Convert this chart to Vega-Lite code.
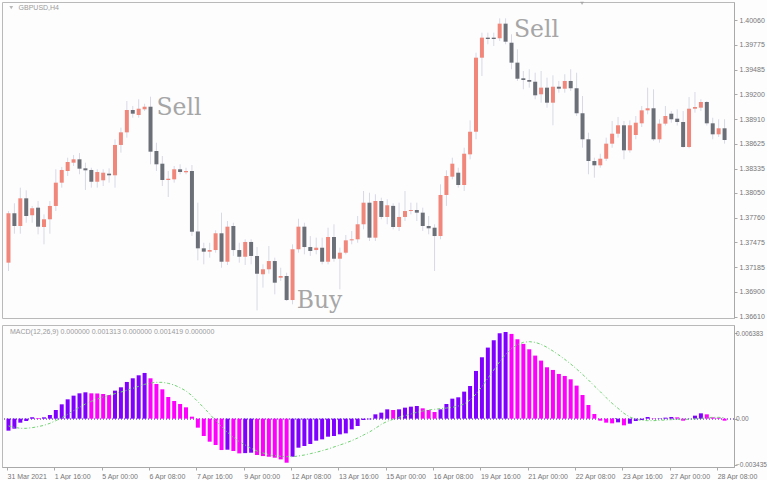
{
"$schema": "https://vega.github.io/schema/vega-lite/v6.json",
"background": "#fdfdfe",
"padding": {"left": 1, "top": 1, "right": 0, "bottom": 0},
"spacing": 3,
"config": {
  "view": {"stroke": "#b9b9b9", "strokeWidth": 1},
  "axis": {"labelFont": "Liberation Sans", "labelFontSize": 7, "labelColor": "#767676", "domainColor": "#a9a9a9", "tickColor": "#a9a9a9", "tickSize": 3, "grid": false, "title": null, "labelPadding": 2, "labelOverlap": false, "labelBound": false, "labelFlush": false}
},
"datasets": {
"bars": [
{"i":0,"o":1.37239,"h":1.37840,"l":1.37142,"c":1.37814,"m":-0.000896,"s":-0.000547,"d":"up"},
{"i":1,"o":1.37814,"h":1.37930,"l":1.37576,"c":1.37666,"m":-0.000747,"s":-0.000647,"d":"up"},
{"i":2,"o":1.37666,"h":1.38112,"l":1.37576,"c":1.37988,"m":-0.000299,"s":-0.000721,"d":"up"},
{"i":3,"o":1.37988,"h":1.38081,"l":1.37704,"c":1.37782,"m":-0.000174,"s":-0.000721,"d":"up"},
{"i":4,"o":1.37790,"h":1.37899,"l":1.37704,"c":1.37872,"m":0.0001,"s":-0.000672,"d":"up"},
{"i":5,"o":1.37879,"h":1.37957,"l":1.37569,"c":1.37658,"m":0.00005,"s":-0.000597,"d":"down"},
{"i":6,"o":1.37654,"h":1.37802,"l":1.37453,"c":1.37744,"m":0.0001,"s":-0.000498,"d":"up"},
{"i":7,"o":1.37744,"h":1.37957,"l":1.37576,"c":1.37899,"m":0.000274,"s":-0.000348,"d":"up"},
{"i":8,"o":1.37899,"h":1.38326,"l":1.37840,"c":1.38170,"m":0.000647,"s":-0.000149,"d":"up"},
{"i":9,"o":1.38170,"h":1.38353,"l":1.38112,"c":1.38318,"m":0.001071,"s":0.000075,"d":"up"},
{"i":10,"o":1.38306,"h":1.38461,"l":1.38248,"c":1.38411,"m":0.001444,"s":0.000323,"d":"up"},
{"i":11,"o":1.38403,"h":1.38492,"l":1.38364,"c":1.38442,"m":0.001718,"s":0.000597,"d":"up"},
{"i":12,"o":1.38442,"h":1.38515,"l":1.38268,"c":1.38333,"m":0.001892,"s":0.000846,"d":"up"},
{"i":13,"o":1.38337,"h":1.38403,"l":1.38085,"c":1.38314,"m":0.001967,"s":0.001095,"d":"up"},
{"i":14,"o":1.38318,"h":1.38344,"l":1.38112,"c":1.38181,"m":0.001892,"s":0.001294,"d":"down"},
{"i":15,"o":1.38181,"h":1.38326,"l":1.38112,"c":1.38294,"m":0.00188,"s":0.001468,"d":"down"},
{"i":16,"o":1.38198,"h":1.38326,"l":1.38131,"c":1.38286,"m":0.001843,"s":0.001617,"d":"down"},
{"i":17,"o":1.38275,"h":1.38337,"l":1.38170,"c":1.38256,"m":0.001768,"s":0.001741,"d":"down"},
{"i":18,"o":1.38256,"h":1.38675,"l":1.38112,"c":1.38609,"m":0.002092,"s":0.001866,"d":"up"},
{"i":19,"o":1.38609,"h":1.38810,"l":1.38519,"c":1.38756,"m":0.002341,"s":0.00199,"d":"up"},
{"i":20,"o":1.38756,"h":1.39121,"l":1.38694,"c":1.39016,"m":0.002739,"s":0.002114,"d":"up"},
{"i":21,"o":1.39016,"h":1.39063,"l":1.38926,"c":1.38973,"m":0.003013,"s":0.002264,"d":"up"},
{"i":22,"o":1.38958,"h":1.39141,"l":1.38926,"c":1.39031,"m":0.003237,"s":0.002413,"d":"up"},
{"i":23,"o":1.39024,"h":1.39089,"l":1.39004,"c":1.39054,"m":0.003411,"s":0.002562,"d":"up"},
{"i":24,"o":1.39054,"h":1.39171,"l":1.38384,"c":1.38531,"m":0.003013,"s":0.002662,"d":"down"},
{"i":25,"o":1.38539,"h":1.38635,"l":1.38306,"c":1.38384,"m":0.00259,"s":0.002711,"d":"down"},
{"i":26,"o":1.38391,"h":1.38481,"l":1.38131,"c":1.38201,"m":0.002191,"s":0.002711,"d":"down"},
{"i":27,"o":1.38201,"h":1.38306,"l":1.38003,"c":1.38216,"m":0.001619,"s":0.002637,"d":"down"},
{"i":28,"o":1.38209,"h":1.38364,"l":1.38170,"c":1.38326,"m":0.00132,"s":0.002512,"d":"down"},
{"i":29,"o":1.38326,"h":1.38384,"l":1.38268,"c":1.38294,"m":0.001096,"s":0.002313,"d":"down"},
{"i":30,"o":1.38291,"h":1.38344,"l":1.38268,"c":1.38306,"m":0.000847,"s":0.002065,"d":"down"},
{"i":31,"o":1.38306,"h":1.38376,"l":1.37549,"c":1.37599,"m":0.000149,"s":0.001716,"d":"down"},
{"i":32,"o":1.37602,"h":1.37937,"l":1.37266,"c":1.37406,"m":-0.000672,"s":0.001269,"d":"down"},
{"i":33,"o":1.37406,"h":1.37471,"l":1.37220,"c":1.37367,"m":-0.001295,"s":0.000821,"d":"down"},
{"i":34,"o":1.37367,"h":1.37471,"l":1.37297,"c":1.37386,"m":-0.001718,"s":0.000348,"d":"down"},
{"i":35,"o":1.37386,"h":1.37616,"l":1.37355,"c":1.37581,"m":-0.001967,"s":-0.000149,"d":"down"},
{"i":36,"o":1.37581,"h":1.37821,"l":1.37180,"c":1.37250,"m":-0.002341,"s":-0.000597,"d":"down"},
{"i":37,"o":1.37250,"h":1.37724,"l":1.37212,"c":1.37658,"m":-0.002316,"s":-0.00102,"d":"up"},
{"i":38,"o":1.37666,"h":1.37704,"l":1.37317,"c":1.37386,"m":-0.002415,"s":-0.001393,"d":"down"},
{"i":39,"o":1.37386,"h":1.37471,"l":1.37239,"c":1.37308,"m":-0.00259,"s":-0.001716,"d":"down"},
{"i":40,"o":1.37308,"h":1.37511,"l":1.37212,"c":1.37480,"m":-0.00257,"s":-0.001965,"d":"up"},
{"i":41,"o":1.37480,"h":1.37511,"l":1.37220,"c":1.37317,"m":-0.00254,"s":-0.002214,"d":"up"},
{"i":42,"o":1.37317,"h":1.37421,"l":1.36684,"c":1.37111,"m":-0.002714,"s":-0.002413,"d":"down"},
{"i":43,"o":1.37104,"h":1.37220,"l":1.36948,"c":1.37162,"m":-0.00279,"s":-0.002562,"d":"down"},
{"i":44,"o":1.37162,"h":1.37433,"l":1.37111,"c":1.37258,"m":-0.00284,"s":-0.002687,"d":"down"},
{"i":45,"o":1.37258,"h":1.37297,"l":1.36871,"c":1.37006,"m":-0.002913,"s":-0.002761,"d":"down"},
{"i":46,"o":1.37064,"h":1.37180,"l":1.37026,"c":1.37084,"m":-0.003038,"s":-0.002811,"d":"down"},
{"i":47,"o":1.37084,"h":1.37122,"l":1.36793,"c":1.36804,"m":-0.003287,"s":-0.002836,"d":"down"},
{"i":48,"o":1.36804,"h":1.37453,"l":1.36754,"c":1.37395,"m":-0.002839,"s":-0.002836,"d":"up"},
{"i":49,"o":1.37395,"h":1.37751,"l":1.37355,"c":1.37658,"m":-0.002166,"s":-0.002786,"d":"up"},
{"i":50,"o":1.37658,"h":1.37704,"l":1.37336,"c":1.37421,"m":-0.002042,"s":-0.002711,"d":"up"},
{"i":51,"o":1.37421,"h":1.37549,"l":1.37317,"c":1.37375,"m":-0.001892,"s":-0.002612,"d":"up"},
{"i":52,"o":1.37386,"h":1.37530,"l":1.37336,"c":1.37413,"m":-0.001643,"s":-0.002512,"d":"up"},
{"i":53,"o":1.37413,"h":1.37530,"l":1.37220,"c":1.37250,"m":-0.001544,"s":-0.002388,"d":"up"},
{"i":54,"o":1.37250,"h":1.37646,"l":1.37220,"c":1.37538,"m":-0.001345,"s":-0.002264,"d":"up"},
{"i":55,"o":1.37538,"h":1.37686,"l":1.37250,"c":1.37285,"m":-0.001295,"s":-0.002114,"d":"up"},
{"i":56,"o":1.37285,"h":1.37413,"l":1.36929,"c":1.37355,"m":-0.00117,"s":-0.001965,"d":"up"},
{"i":57,"o":1.37355,"h":1.37561,"l":1.37336,"c":1.37499,"m":-0.001096,"s":-0.001816,"d":"up"},
{"i":58,"o":1.37499,"h":1.37608,"l":1.37453,"c":1.37511,"m":-0.000797,"s":-0.001642,"d":"up"},
{"i":59,"o":1.37511,"h":1.37782,"l":1.37471,"c":1.37686,"m":-0.000548,"s":-0.001443,"d":"up"},
{"i":60,"o":1.37686,"h":1.38073,"l":1.37627,"c":1.37937,"m":-0.0001,"s":-0.001219,"d":"up"},
{"i":61,"o":1.37937,"h":1.38053,"l":1.37491,"c":1.37530,"m":-0.00005,"s":-0.000995,"d":"up"},
{"i":62,"o":1.37530,"h":1.38035,"l":1.37491,"c":1.37957,"m":0.000324,"s":-0.000721,"d":"up"},
{"i":63,"o":1.37957,"h":1.37995,"l":1.37744,"c":1.37771,"m":0.000448,"s":-0.000423,"d":"up"},
{"i":64,"o":1.37771,"h":1.37977,"l":1.37686,"c":1.37907,"m":0.000697,"s":-0.000199,"d":"up"},
{"i":65,"o":1.37900,"h":1.37930,"l":1.37627,"c":1.37654,"m":0.000647,"s":-0.00005,"d":"down"},
{"i":66,"o":1.37654,"h":1.37937,"l":1.37608,"c":1.37771,"m":0.000697,"s":0.0001,"d":"up"},
{"i":67,"o":1.37771,"h":1.38073,"l":1.37724,"c":1.37840,"m":0.000822,"s":0.000224,"d":"up"},
{"i":68,"o":1.37840,"h":1.37937,"l":1.37802,"c":1.37852,"m":0.000896,"s":0.000348,"d":"up"},
{"i":69,"o":1.37852,"h":1.37937,"l":1.37724,"c":1.37821,"m":0.000946,"s":0.000473,"d":"up"},
{"i":70,"o":1.37821,"h":1.37879,"l":1.37608,"c":1.37666,"m":0.000772,"s":0.000572,"d":"down"},
{"i":71,"o":1.37666,"h":1.37782,"l":1.37569,"c":1.37639,"m":0.000647,"s":0.000647,"d":"down"},
{"i":72,"o":1.37646,"h":1.37686,"l":1.37142,"c":1.37549,"m":0.000498,"s":0.000697,"d":"down"},
{"i":73,"o":1.37549,"h":1.38151,"l":1.37511,"c":1.38027,"m":0.000697,"s":0.000746,"d":"up"},
{"i":74,"o":1.38027,"h":1.38314,"l":1.37899,"c":1.38248,"m":0.001096,"s":0.000796,"d":"up"},
{"i":75,"o":1.38240,"h":1.38461,"l":1.38209,"c":1.38391,"m":0.001494,"s":0.000846,"d":"up"},
{"i":76,"o":1.38286,"h":1.38344,"l":1.38112,"c":1.38143,"m":0.001594,"s":0.000945,"d":"up"},
{"i":77,"o":1.38143,"h":1.38577,"l":1.38073,"c":1.38507,"m":0.002017,"s":0.001095,"d":"up"},
{"i":78,"o":1.38500,"h":1.38896,"l":1.38442,"c":1.38763,"m":0.00244,"s":0.001393,"d":"up"},
{"i":79,"o":1.38763,"h":1.39683,"l":1.38675,"c":1.39625,"m":0.003561,"s":0.001841,"d":"up"},
{"i":80,"o":1.39625,"h":1.39916,"l":1.39412,"c":1.39858,"m":0.004582,"s":0.002388,"d":"up"},
{"i":81,"o":1.39858,"h":1.39916,"l":1.39781,"c":1.39842,"m":0.005304,"s":0.00301,"d":"up"},
{"i":82,"o":1.39858,"h":1.39916,"l":1.39761,"c":1.39842,"m":0.005852,"s":0.003632,"d":"up"},
{"i":83,"o":1.39851,"h":1.40083,"l":1.39819,"c":1.40021,"m":0.006374,"s":0.004254,"d":"up"},
{"i":84,"o":1.40021,"h":1.40083,"l":1.39781,"c":1.39811,"m":0.006468,"s":0.004801,"d":"up"},
{"i":85,"o":1.39799,"h":1.39897,"l":1.39490,"c":1.39567,"m":0.006325,"s":0.005249,"d":"down"},
{"i":86,"o":1.39567,"h":1.39723,"l":1.39354,"c":1.39380,"m":0.005926,"s":0.005522,"d":"down"},
{"i":87,"o":1.39385,"h":1.39470,"l":1.39257,"c":1.39365,"m":0.005578,"s":0.005697,"d":"down"},
{"i":88,"o":1.39365,"h":1.39490,"l":1.39276,"c":1.39345,"m":0.005179,"s":0.005746,"d":"down"},
{"i":89,"o":1.39345,"h":1.39450,"l":1.39141,"c":1.39187,"m":0.004706,"s":0.005697,"d":"down"},
{"i":90,"o":1.39199,"h":1.39470,"l":1.39101,"c":1.39276,"m":0.004333,"s":0.005547,"d":"down"},
{"i":91,"o":1.39276,"h":1.39392,"l":1.39043,"c":1.39101,"m":0.003835,"s":0.005323,"d":"down"},
{"i":92,"o":1.39101,"h":1.39420,"l":1.38838,"c":1.39287,"m":0.003635,"s":0.00505,"d":"down"},
{"i":93,"o":1.39287,"h":1.39354,"l":1.39217,"c":1.39264,"m":0.003337,"s":0.004751,"d":"down"},
{"i":94,"o":1.39264,"h":1.39432,"l":1.39217,"c":1.39354,"m":0.003187,"s":0.004428,"d":"down"},
{"i":95,"o":1.39354,"h":1.39490,"l":1.39237,"c":1.39269,"m":0.002938,"s":0.00408,"d":"down"},
{"i":96,"o":1.39269,"h":1.39450,"l":1.38946,"c":1.38978,"m":0.002465,"s":0.003706,"d":"down"},
{"i":97,"o":1.38978,"h":1.39179,"l":1.38577,"c":1.38675,"m":0.001768,"s":0.003308,"d":"down"},
{"i":98,"o":1.38675,"h":1.38752,"l":1.38268,"c":1.38422,"m":0.001021,"s":0.002886,"d":"down"},
{"i":99,"o":1.38422,"h":1.38461,"l":1.38228,"c":1.38372,"m":0.000349,"s":0.002438,"d":"down"},
{"i":100,"o":1.38372,"h":1.38507,"l":1.38344,"c":1.38449,"m":-0.000149,"s":0.002015,"d":"down"},
{"i":101,"o":1.38449,"h":1.38694,"l":1.38422,"c":1.38624,"m":-0.000299,"s":0.001567,"d":"down"},
{"i":102,"o":1.38624,"h":1.38888,"l":1.38577,"c":1.38740,"m":-0.000349,"s":0.001144,"d":"down"},
{"i":103,"o":1.38740,"h":1.38935,"l":1.38694,"c":1.38838,"m":-0.000274,"s":0.000771,"d":"up"},
{"i":104,"o":1.38838,"h":1.38888,"l":1.38442,"c":1.38547,"m":-0.000498,"s":0.000398,"d":"down"},
{"i":105,"o":1.38547,"h":1.38896,"l":1.38519,"c":1.38838,"m":-0.000374,"s":0.000124,"d":"up"},
{"i":106,"o":1.38725,"h":1.38946,"l":1.38675,"c":1.38868,"m":-0.000174,"s":-0.00005,"d":"up"},
{"i":107,"o":1.38861,"h":1.39063,"l":1.38818,"c":1.39012,"m":-0.0001,"s":-0.000124,"d":"up"},
{"i":108,"o":1.39012,"h":1.39276,"l":1.38966,"c":1.39036,"m":0.000125,"s":-0.000149,"d":"up"},
{"i":109,"o":1.39036,"h":1.39257,"l":1.38655,"c":1.38675,"m":-0.000025,"s":-0.000149,"d":"down"},
{"i":110,"o":1.38675,"h":1.38908,"l":1.38635,"c":1.38857,"m":0.000025,"s":-0.000124,"d":"up"},
{"i":111,"o":1.38857,"h":1.39063,"l":1.38835,"c":1.38946,"m":0.000075,"s":-0.0001,"d":"up"},
{"i":112,"o":1.38973,"h":1.39004,"l":1.38868,"c":1.38908,"m":0.000125,"s":-0.000075,"d":"up"},
{"i":113,"o":1.38915,"h":1.39024,"l":1.38835,"c":1.38876,"m":0.0001,"s":-0.00005,"d":"down"},
{"i":114,"o":1.38876,"h":1.39004,"l":1.38577,"c":1.38585,"m":-0.000149,"s":-0.00005,"d":"down"},
{"i":115,"o":1.38585,"h":1.39167,"l":1.38570,"c":1.39031,"m":0.00001,"s":-0.00005,"d":"up"},
{"i":116,"o":1.39031,"h":1.39226,"l":1.38985,"c":1.39051,"m":0.000224,"s":-0.000025,"d":"up"},
{"i":117,"o":1.39043,"h":1.39141,"l":1.39004,"c":1.39109,"m":0.000398,"s":0.000025,"d":"up"},
{"i":118,"o":1.39109,"h":1.39121,"l":1.38835,"c":1.38861,"m":0.000324,"s":0.000075,"d":"down"},
{"i":119,"o":1.38861,"h":1.38926,"l":1.38675,"c":1.38733,"m":0.0001,"s":0.0001,"d":"down"},
{"i":120,"o":1.38733,"h":1.38908,"l":1.38702,"c":1.38803,"m":0.000075,"s":0.0001,"d":"down"},
{"i":121,"o":1.38803,"h":1.38908,"l":1.38624,"c":1.38667,"m":-0.000149,"s":0.000075,"d":"down"}
],
"signals": [
{"i":25.0,"p":1.38954,"t":"Sell"},
{"i":85.4,"p":1.39866,"t":"Sell"},
{"i":48.7,"p":1.36711,"t":"Buy"}
],
"header": [{"i":1.7,"p":1.40203,"t":"GBPUSD,H4"}],
"markers": [{"i":0.47,"p":1.40207},{"i":96.92,"p":1.40256}],
"macdHeader": [{"i":0.25,"v":0.006493,"t":"MACD(12,26,9) 0.000000 0.001313 0.000000 0.001419 0.000000"}]
},
"vconcat": [
{
  "width": 732, "height": 316,
  "layer": [
    {"data": {"name": "bars"},
     "mark": {"type": "rule", "color": "#d8d8e6", "strokeWidth": 1},
     "encoding": {
       "x": {"field": "i", "type": "quantitative", "scale": {"domain": [-0.25, 121.75], "nice": false, "zero": false}, "axis": null},
       "y": {"field": "l", "type": "quantitative", "scale": {"domain": [1.36595, 1.40273], "nice": false, "zero": false},
             "axis": {"orient": "right", "values": [1.3661,1.369,1.37185,1.37475,1.3776,1.3805,1.38335,1.38625,1.3891,1.392,1.39485,1.39775,1.4006], "format": ".5f", "labelBound": false, "labelOverlap": false, "labelFlush": false}},
       "y2": {"field": "h"}
     }},
    {"data": {"name": "bars"},
     "mark": {"type": "bar", "orient": "vertical", "size": 4},
     "encoding": {
       "x": {"field": "i", "type": "quantitative", "scale": {"domain": [-0.25, 121.75], "nice": false, "zero": false}, "axis": null},
       "y": {"field": "o", "type": "quantitative", "scale": {"domain": [1.36595, 1.40273], "nice": false, "zero": false},
             "axis": {"orient": "right", "values": [1.3661,1.369,1.37185,1.37475,1.3776,1.3805,1.38335,1.38625,1.3891,1.392,1.39485,1.39775,1.4006], "format": ".5f", "labelBound": false, "labelOverlap": false, "labelFlush": false}},
       "y2": {"field": "c"},
       "color": {"condition": {"test": "datum.c > datum.o", "value": "#f0877a"}, "value": "#6b6f77"}
     }},
    {"data": {"name": "signals"},
     "mark": {"type": "text", "font": "DejaVu Serif", "fontSize": 23.5, "color": "#a6a6a6", "align": "left", "baseline": "alphabetic"},
     "encoding": {
       "x": {"field": "i", "type": "quantitative", "scale": {"domain": [-0.25, 121.75], "nice": false, "zero": false}, "axis": null},
       "y": {"field": "p", "type": "quantitative", "scale": {"domain": [1.36595, 1.40273], "nice": false, "zero": false},
             "axis": {"orient": "right", "values": [1.3661,1.369,1.37185,1.37475,1.3776,1.3805,1.38335,1.38625,1.3891,1.392,1.39485,1.39775,1.4006], "format": ".5f", "labelBound": false, "labelOverlap": false, "labelFlush": false}},
       "text": {"field": "t"}
     }},
    {"data": {"name": "header"},
     "mark": {"type": "text", "font": "Liberation Sans", "fontSize": 7, "color": "#9a9a9a", "align": "left", "baseline": "middle"},
     "encoding": {
       "x": {"field": "i", "type": "quantitative", "scale": {"domain": [-0.25, 121.75], "nice": false, "zero": false}, "axis": null},
       "y": {"field": "p", "type": "quantitative", "scale": {"domain": [1.36595, 1.40273], "nice": false, "zero": false},
             "axis": {"orient": "right", "values": [1.3661,1.369,1.37185,1.37475,1.3776,1.3805,1.38335,1.38625,1.3891,1.392,1.39485,1.39775,1.4006], "format": ".5f", "labelBound": false, "labelOverlap": false, "labelFlush": false}},
       "text": {"field": "t"}
     }},
    {"data": {"name": "markers"},
     "mark": {"type": "point", "shape": "triangle-down", "filled": true, "size": 14, "color": "#9a9a9a"},
     "encoding": {
       "x": {"field": "i", "type": "quantitative", "scale": {"domain": [-0.25, 121.75], "nice": false, "zero": false}, "axis": null},
       "y": {"field": "p", "type": "quantitative", "scale": {"domain": [1.36595, 1.40273], "nice": false, "zero": false},
             "axis": {"orient": "right", "values": [1.3661,1.369,1.37185,1.37475,1.3776,1.3805,1.38335,1.38625,1.3891,1.392,1.39485,1.39775,1.4006], "format": ".5f", "labelBound": false, "labelOverlap": false, "labelFlush": false}}
     }}
  ]
},
{
  "width": 732, "height": 142,
  "layer": [
    {"data": {"name": "bars"},
     "mark": {"type": "rule", "color": "#9a7fe0", "strokeDash": [1, 2], "strokeWidth": 1},
     "encoding": {
       "y": {"datum": 0, "type": "quantitative", "scale": {"domain": [-0.003607, 0.00699], "nice": false, "zero": false}}
     }},
    {"data": {"name": "bars"},
     "mark": {"type": "bar", "orient": "vertical", "size": 4},
     "encoding": {
       "x": {"field": "i", "type": "quantitative", "scale": {"domain": [-0.25, 121.75], "nice": false, "zero": false},
             "axis": {"values": [-0.25,7.75,15.75,23.75,31.75,39.75,47.75,55.75,63.75,71.75,79.75,87.75,95.75,103.75,111.75,119.75],
                      "labelExpr": "['31 Mar 2021','1 Apr 16:00','5 Apr 00:00','6 Apr 08:00','7 Apr 16:00','9 Apr 00:00','12 Apr 08:00','13 Apr 16:00','15 Apr 00:00','16 Apr 08:00','19 Apr 16:00','21 Apr 00:00','22 Apr 08:00','23 Apr 16:00','27 Apr 00:00','28 Apr 08:00'][round((datum.value+0.25)/8)]",
                      "labelAlign": "left", "labelFlush": false, "labelOverlap": false, "labelBound": false}},
       "y": {"field": "m", "type": "quantitative", "scale": {"domain": [-0.003607, 0.00699], "nice": false, "zero": false},
             "axis": {"orient": "right", "values": [-0.003435, 0, 0.006383], "labelExpr": "datum.value == 0 ? '0.00' : format(datum.value, '.6f')", "labelFontSize": 6.5, "labelPadding": -1.5, "labelBound": false, "labelOverlap": false, "labelFlush": false}},
       "y2": {"datum": 0},
       "color": {"field": "d", "type": "nominal", "scale": {"domain": ["up", "down"], "range": ["#7f00ff", "#ff00ff"]}, "legend": null}
     }},
    {"data": {"name": "bars"},
     "mark": {"type": "line", "color": "#6fd36f", "strokeWidth": 1, "strokeDash": [3, 2, 1, 2]},
     "encoding": {
       "x": {"field": "i", "type": "quantitative", "scale": {"domain": [-0.25, 121.75], "nice": false, "zero": false}},
       "y": {"field": "s", "type": "quantitative", "scale": {"domain": [-0.003607, 0.00699], "nice": false, "zero": false}}
     }},
    {"data": {"name": "macdHeader"},
     "mark": {"type": "text", "font": "Liberation Sans", "fontSize": 7, "color": "#9a9a9a", "align": "left", "baseline": "middle"},
     "encoding": {
       "x": {"field": "i", "type": "quantitative", "scale": {"domain": [-0.25, 121.75], "nice": false, "zero": false}},
       "y": {"field": "v", "type": "quantitative", "scale": {"domain": [-0.003607, 0.00699], "nice": false, "zero": false}},
       "text": {"field": "t"}
     }}
  ]
}
]
}
